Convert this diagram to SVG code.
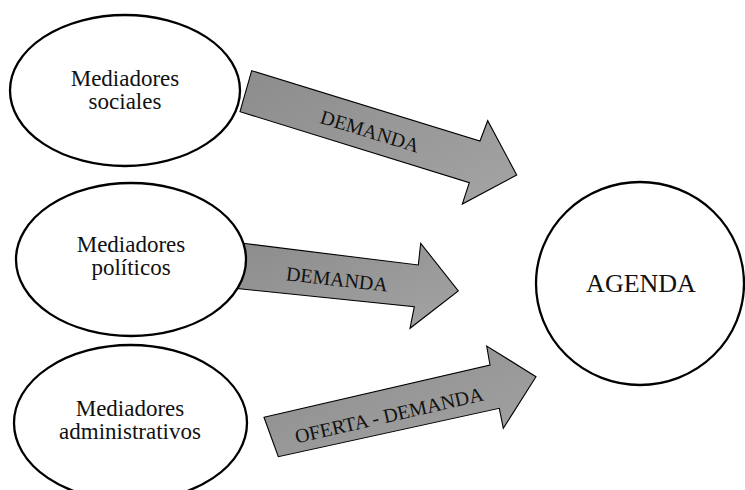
<svg xmlns="http://www.w3.org/2000/svg" width="745" height="490" viewBox="0 0 745 490">
  <defs>
    <linearGradient id="arrowFill" x1="0" y1="0" x2="1" y2="1">
      <stop offset="0" stop-color="#8c8c8c"/>
      <stop offset="1" stop-color="#a4a4a4"/>
    </linearGradient>
  </defs>
  <style>
    .node { fill: #ffffff; stroke: #000000; stroke-width: 2.3; }
    .arrow { fill: url(#arrowFill); stroke: #000000; stroke-width: 1.1; stroke-linejoin: miter; }
    .label { font-family: "Liberation Serif", "Times New Roman", serif; fill: #111111; text-anchor: middle; }
    .nodeText { font-size: 23px; }
    .arrowText { font-size: 20px; }
  </style>
  <rect width="745" height="490" fill="#ffffff"/>

  <!-- flow arrows, drawn under the ellipses -->
  <g id="connectors">
    <g id="arrow-sociales">
      <polygon class="arrow" points="251.7,70.7 480,141 487.7,120.7 516.7,175 462.3,204 469.3,182.7 240,111.7"/>
      <text class="label arrowText" transform="translate(370,131) rotate(17)" x="0" y="7">DEMANDA</text>
    </g>
    <g id="arrow-politicos">
      <polygon class="arrow" points="243,243.3 418.3,265 420.7,243.3 458.3,291 410,328.3 414.3,306.7 235,288.3"/>
      <text class="label arrowText" transform="translate(337,279) rotate(6.5)" x="0" y="7">DEMANDA</text>
    </g>
    <g id="arrow-administrativos">
      <polygon class="arrow" points="264,417.3 490,365 486.7,346 536,376.7 503.3,428.3 499.3,408.3 278.3,456.7"/>
      <text class="label arrowText" transform="translate(389,415) rotate(-13)" x="0" y="7">OFERTA - DEMANDA</text>
    </g>
  </g>

  <g id="mediadores-sociales">
    <ellipse class="node" cx="125" cy="90.5" rx="115" ry="75.5"/>
    <text class="label nodeText" x="125" y="86">Mediadores</text>
    <text class="label nodeText" x="125" y="109">sociales</text>
  </g>

  <g id="mediadores-politicos">
    <ellipse class="node" cx="131" cy="259.5" rx="115" ry="76.5"/>
    <text class="label nodeText" x="131" y="252">Mediadores</text>
    <text class="label nodeText" x="131" y="275">políticos</text>
  </g>

  <g id="mediadores-administrativos">
    <ellipse class="node" cx="130.5" cy="423" rx="116.5" ry="78"/>
    <text class="label nodeText" x="130" y="416">Mediadores</text>
    <text class="label nodeText" x="130" y="439">administrativos</text>
  </g>

  <g id="agenda">
    <ellipse class="node" cx="640" cy="283.5" rx="104" ry="101.5"/>
    <text class="label" x="641" y="292" font-size="26">AGENDA</text>
  </g>
</svg>
